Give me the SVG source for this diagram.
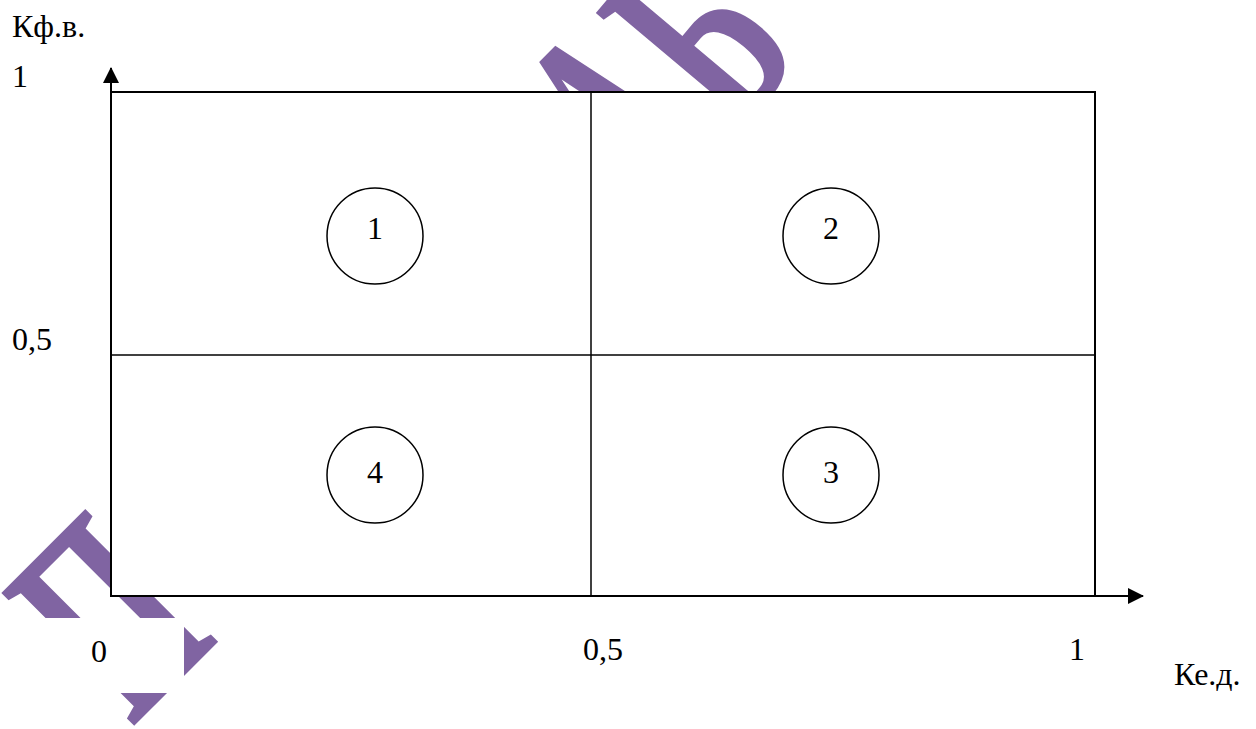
<svg xmlns="http://www.w3.org/2000/svg" width="1256" height="729" viewBox="0 0 1256 729">
<style>
.t{font-family:'Liberation Serif','Times New Roman','DejaVu Serif',serif;font-size:32px;fill:#000}
.wm{font-family:'Liberation Serif','Times New Roman','DejaVu Serif',serif;font-size:287px;font-weight:bold;fill:#8064A2}
.frame{fill:#fff;stroke:#000;stroke-width:2}
.grid{stroke:#000;stroke-width:1.5;fill:none}
.axis{stroke:#000;stroke-width:2;fill:none}
.zone circle{fill:#fff;stroke:#000;stroke-width:1.5}
.bg{fill:#fff}
</style>
<defs>
<marker id="arr" viewBox="0 0 16 16" refX="15" refY="8" markerWidth="16" markerHeight="16" markerUnits="userSpaceOnUse" orient="auto">
<path d="M0,0 L16,8 L0,16 Z" fill="#000"/>
</marker>
</defs>
<rect width="1256" height="729" fill="#fff"/>
<g id="watermark">
<text class="wm" transform="translate(132,728) rotate(-45) scale(0.56,1)">П</text>
<text class="wm" transform="translate(640,229) rotate(-45) scale(0.56,1)">А</text>
<text class="wm" transform="translate(738,136) rotate(-50) scale(0.56,1)">Б</text>
<text class="wm" transform="translate(850,28) rotate(-50) scale(0.56,1)">С</text>
</g>
<g id="frame">
<rect class="frame" x="111" y="92" width="984" height="504"/>
</g>
<g id="connectors">
<line class="grid" x1="591" y1="92" x2="591" y2="596"/>
<line class="grid" x1="111" y1="355" x2="1095" y2="355"/>
<line class="axis" x1="111" y1="596" x2="111" y2="68" marker-end="url(#arr)"/>
<line class="axis" x1="111" y1="596" x2="1143" y2="596" marker-end="url(#arr)"/>
</g>
<g id="zone1" class="zone"><circle cx="375" cy="236" r="48"/><text class="t" x="375" y="239" text-anchor="middle">1</text></g>
<g id="zone2" class="zone"><circle cx="831" cy="236" r="48"/><text class="t" x="831" y="239" text-anchor="middle">2</text></g>
<g id="zone3" class="zone"><circle cx="831" cy="475" r="48"/><text class="t" x="831" y="483" text-anchor="middle">3</text></g>
<g id="zone4" class="zone"><circle cx="375" cy="475" r="48"/><text class="t" x="375" y="483" text-anchor="middle">4</text></g>
<g id="labels">
<text class="t" x="12" y="37">Кф.в.</text>
<text class="t" x="12" y="87">1</text>
<text class="t" x="12" y="350">0,5</text>
<rect class="bg" x="40" y="618" width="144" height="75"/>
<text class="t" x="91" y="662">0</text>
<text class="t" x="583" y="660">0,5</text>
<text class="t" x="1069" y="660">1</text>
<text class="t" x="1174" y="685">Ке.д.</text>
</g>
</svg>
